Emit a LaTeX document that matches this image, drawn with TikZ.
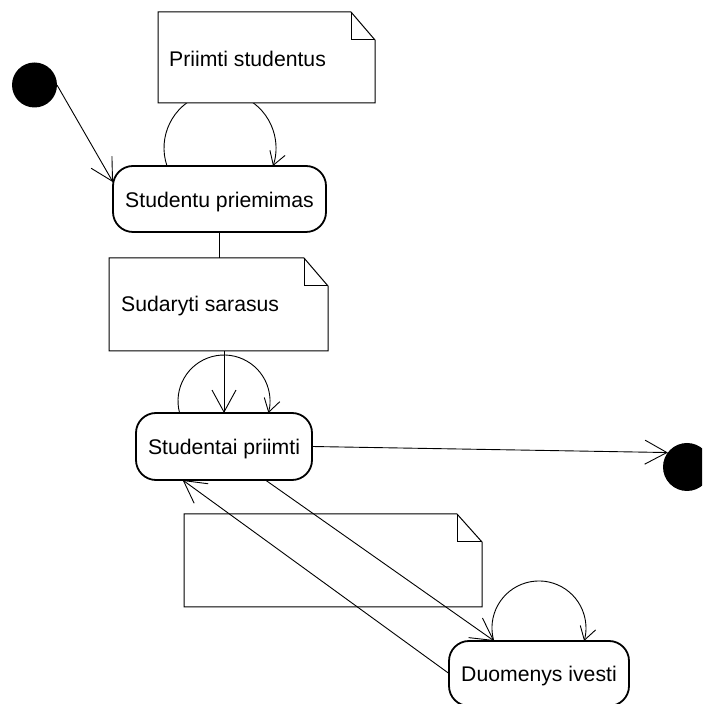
\documentclass[tikz,border=0pt]{standalone}
\usepackage{fontspec}
\setmainfont{Liberation Sans}
\usetikzlibrary{arrows.meta,calc}

\tikzset{
  state/.style={draw=black, line width=1.8pt, rounded corners=20pt, fill=white,
    inner sep=0pt, outer sep=0pt, text height=17pt, text depth=0pt,
    font=\fontsize{21.2}{25}\selectfont},
  notearea/.style={inner sep=0pt, outer sep=0pt},
  notetext/.style={inner sep=0pt, anchor=base west, font=\fontsize{21.2}{25}\selectfont},
  noteline/.style={draw=black, line width=1pt, fill=white},
  pseudo/.style={circle, fill=black, inner sep=0pt, outer sep=0pt},
  flow/.style={line width=0.9pt, -{Straight Barb[length=22pt,width=24pt,line width=0.9pt]}},
  plain/.style={line width=0.9pt},
  selfloop/.style={line width=0.9pt, -{Straight Barb[length=13pt,width=16pt,line width=0.9pt]}},
}

% dog-eared sheet drawn round a node: #1 node, #2 fold width, #3 fold height
\newcommand\notesheet[3]{%
  \draw[noteline] (#1.south west) -- (#1.north west) -- ($(#1.north east)+(-#2,0)$)
    -- ($(#1.north east)+(0,-#3)$) -- (#1.south east) -- cycle;
  \draw[noteline, fill=none] ($(#1.north east)+(-#2,0)$) |- ($(#1.north east)+(0,-#3)$);
}

\begin{document}
\begin{tikzpicture}[x=1pt, y=1pt]
\useasboundingbox (0,0) rectangle (702,704);
\clip (0,0) rectangle (702,704);

% pseudo states
\node[pseudo, minimum size=45pt] (init) at (34.5,619) {};
\node[pseudo, minimum size=48pt] (final) at (687,237) {};

% states
\node[state, minimum width=213pt, minimum height=66pt] (s1) at (219.5,505) {Studentu priemimas};
\node[state, minimum width=176pt, minimum height=67pt] (s2) at (224,257.5) {Studentai priimti};
\node[state, minimum width=180pt, minimum height=65pt] (s3) at (539,30.5) {Duomenys ivesti};

% self transitions
\draw[selfloop] ($(s1.north)+(-52.5,0)$) arc[start angle=198.8, end angle=-18.8, radius=56];
\draw[selfloop] ($(s2.north)+(-44.4,0)$) arc[start angle=195.1, end angle=-15.1, radius=46];
\draw[selfloop] ($(s3.north)+(-45.2,0)$) arc[start angle=196.1, end angle=-16.1, radius=47];

% notes
\node[notearea, minimum width=217pt, minimum height=91pt] (n1) at (266.5,646.5) {};
\notesheet{n1}{24}{28}
\node[notetext] (t1) at (169,637) {Priimti studentus};

\node[notearea, minimum width=219pt, minimum height=93pt] (n2) at (218.5,399.5) {};
\notesheet{n2}{24}{28}
\node[notetext] (t2) at (121,392) {Sudaryti sarasus};

\node[notearea, minimum width=298pt, minimum height=93pt] (n3) at (333,143.5) {};
\notesheet{n3}{25}{28}

% transitions
\draw[flow] (init.east) -- (s1.171);
\draw[plain] (s1.south) -- (s1.south |- n2.north);
\draw[flow] (s2.north |- n2.south) -- (s2.north);
\draw[flow] (s2.east) -- (final.143);
\draw[flow] (s2.-39) -- (s3.144);
\draw[flow] (s3.west) -- (s2.219);
\end{tikzpicture}
\end{document}
